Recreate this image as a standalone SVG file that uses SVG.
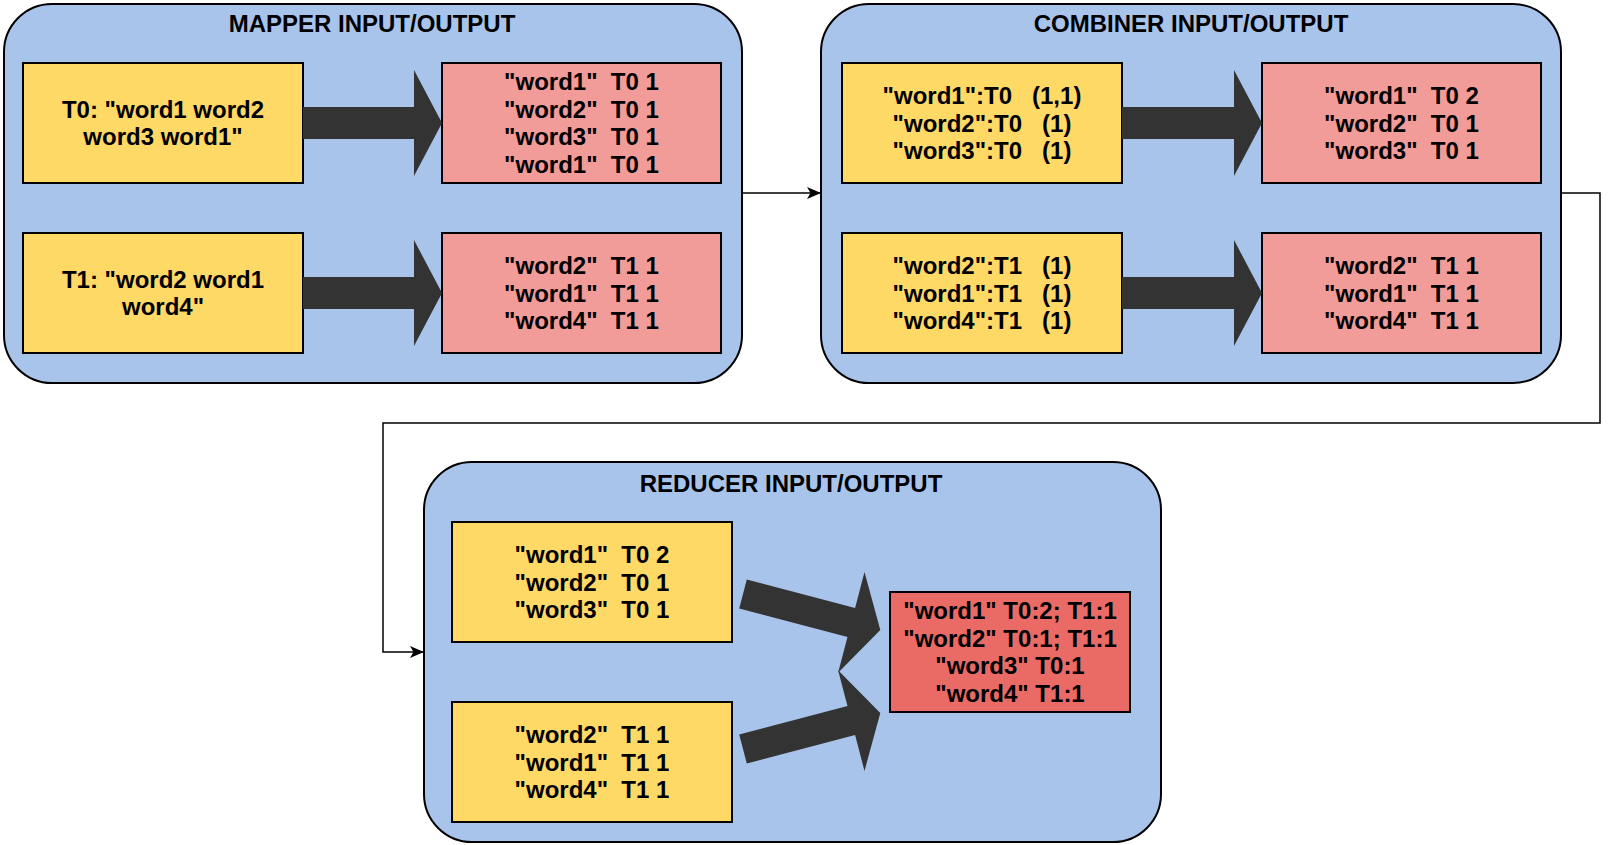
<svg xmlns="http://www.w3.org/2000/svg" width="1620" height="845" viewBox="0 0 1620 845">
<defs>
<style>
.grp{fill:#A9C4EB;stroke:#000;stroke-width:2}
.in{fill:#FFD966;stroke:#000;stroke-width:2}
.out{fill:#F19C99;stroke:#000;stroke-width:2}
.fin{fill:#EA6B66;stroke:#000;stroke-width:2}
.blk{fill:#333333;stroke:none}
.t{font-family:"Liberation Sans",Arial,sans-serif;font-weight:bold;font-size:24px;fill:#000;text-anchor:middle;white-space:pre}
.title{font-family:"Liberation Sans",Arial,sans-serif;font-weight:bold;font-size:24px;fill:#000;text-anchor:middle}
.conn{fill:none;stroke:#000;stroke-width:1.5}
</style>
<marker id="ah" markerUnits="userSpaceOnUse" markerWidth="14" markerHeight="14" viewBox="0 0 14 14" refX="13" refY="7" orient="auto">
<path d="M0,1 L14,7 L0,13 L3.5,7 z" fill="#000"/>
</marker>
</defs>

<g id="mapper">
<rect class="grp" x="4" y="4" width="738" height="379" rx="48" ry="48"/>
<text class="title" x="372" y="32">MAPPER INPUT/OUTPUT</text>
<g id="m_in0"><rect class="in" x="23" y="63" width="280" height="120"/>
<text class="t" x="163" y="117.75">T0: "word1 word2<tspan x="163" dy="27.5">word3 word1"</tspan></text></g>
<g id="m_out0"><rect class="out" x="442" y="63" width="279" height="120"/>
<text class="t" x="581.5" y="90.25">"word1"  T0 1<tspan x="581.5" dy="27.5">"word2"  T0 1</tspan><tspan x="581.5" dy="27.5">"word3"  T0 1</tspan><tspan x="581.5" dy="27.5">"word1"  T0 1</tspan></text></g>
<g id="m_in1"><rect class="in" x="23" y="233" width="280" height="120"/>
<text class="t" x="163" y="287.75">T1: "word2 word1<tspan x="163" dy="27.5">word4"</tspan></text></g>
<g id="m_out1"><rect class="out" x="442" y="233" width="279" height="120"/>
<text class="t" x="581.5" y="274">"word2"  T1 1<tspan x="581.5" dy="27.5">"word1"  T1 1</tspan><tspan x="581.5" dy="27.5">"word4"  T1 1</tspan></text></g>
<polygon class="blk" points="303,107 414,107 414,70 442,123 414,176 414,139 303,139"/>
<polygon class="blk" points="303,277 414,277 414,240 442,293 414,346 414,309 303,309"/>
</g>

<g id="combiner">
<rect class="grp" x="821" y="4" width="740" height="379" rx="48" ry="48"/>
<text class="title" x="1191" y="32">COMBINER INPUT/OUTPUT</text>
<g id="c_in0"><rect class="in" x="842" y="63" width="280" height="120"/>
<text class="t" x="982" y="104">"word1":T0   (1,1)<tspan x="982" dy="27.5">"word2":T0   (1)</tspan><tspan x="982" dy="27.5">"word3":T0   (1)</tspan></text></g>
<g id="c_out0"><rect class="out" x="1262" y="63" width="279" height="120"/>
<text class="t" x="1401.5" y="104">"word1"  T0 2<tspan x="1401.5" dy="27.5">"word2"  T0 1</tspan><tspan x="1401.5" dy="27.5">"word3"  T0 1</tspan></text></g>
<g id="c_in1"><rect class="in" x="842" y="233" width="280" height="120"/>
<text class="t" x="982" y="274">"word2":T1   (1)<tspan x="982" dy="27.5">"word1":T1   (1)</tspan><tspan x="982" dy="27.5">"word4":T1   (1)</tspan></text></g>
<g id="c_out1"><rect class="out" x="1262" y="233" width="279" height="120"/>
<text class="t" x="1401.5" y="274">"word2"  T1 1<tspan x="1401.5" dy="27.5">"word1"  T1 1</tspan><tspan x="1401.5" dy="27.5">"word4"  T1 1</tspan></text></g>
<polygon class="blk" points="1122,107 1234,107 1234,70 1262,123 1234,176 1234,139 1122,139"/>
<polygon class="blk" points="1122,277 1234,277 1234,240 1262,293 1234,346 1234,309 1122,309"/>
</g>

<g id="reducer">
<rect class="grp" x="424" y="462" width="737" height="380" rx="48" ry="48"/>
<text class="title" x="791" y="492">REDUCER INPUT/OUTPUT</text>
<g id="r_in0"><rect class="in" x="452" y="522" width="280" height="120"/>
<text class="t" x="592" y="563">"word1"  T0 2<tspan x="592" dy="27.5">"word2"  T0 1</tspan><tspan x="592" dy="27.5">"word3"  T0 1</tspan></text></g>
<g id="r_in1"><rect class="in" x="452" y="702" width="280" height="120"/>
<text class="t" x="592" y="743">"word2"  T1 1<tspan x="592" dy="27.5">"word1"  T1 1</tspan><tspan x="592" dy="27.5">"word4"  T1 1</tspan></text></g>
<g id="r_out"><rect class="fin" x="890" y="592" width="240" height="120"/>
<text class="t" x="1010" y="619.25">"word1" T0:2; T1:1<tspan x="1010" dy="27.5">"word2" T0:1; T1:1</tspan><tspan x="1010" dy="27.5">"word3" T0:1</tspan><tspan x="1010" dy="27.5">"word4" T1:1</tspan></text></g>
<polygon class="blk" points="746.8,579.5 855.1,607.9 864.5,572.1 880.3,630.1 838.1,672.7 847.5,636.9 739.2,608.5"/>
<polygon class="blk" points="746.8,763.5 855.1,735.1 864.5,770.9 880.3,712.9 838.1,670.3 847.5,706.1 739.2,734.5"/>
</g>

<g id="connectors">
<path class="conn" d="M742,193 L820,193" marker-end="url(#ah)"/>
<path class="conn" d="M1561,193 L1600,193 L1600,423 L383,423 L383,652 L423,652" marker-end="url(#ah)"/>
</g>
</svg>
